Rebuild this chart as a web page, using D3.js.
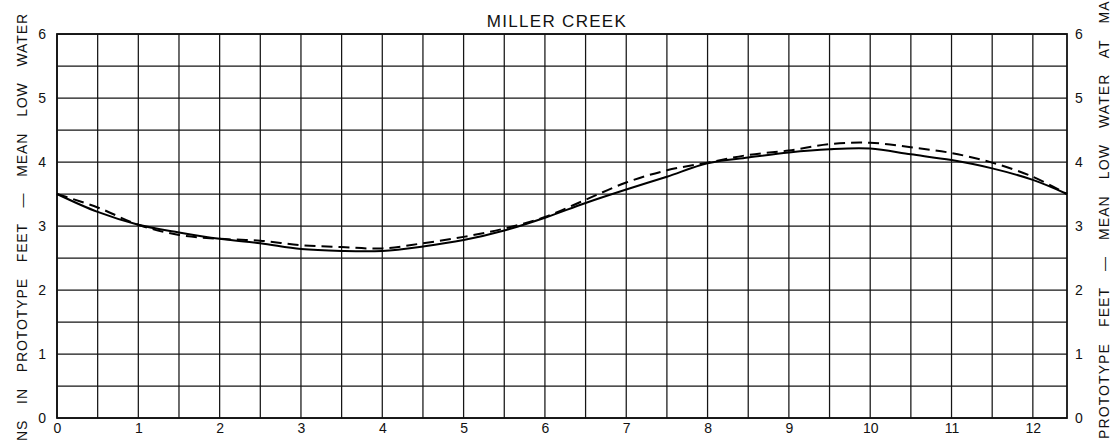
<!DOCTYPE html>
<html>
<head>
<meta charset="utf-8">
<script src="https://cdn.jsdelivr.net/npm/d3@7"></script>
<style>
  html, body { margin: 0; padding: 0; background: #fff; }
  svg { display: block; }
  text { font-family: "Liberation Sans", "DejaVu Sans", sans-serif; fill: #111; }
</style>
</head>
<body>
<svg id="chart" width="1115" height="440"></svg>
<script>
// Time in lunar hours over one tidal cycle (12.42 h)
const hours = [0, 0.5, 1, 1.5, 2, 2.5, 3, 3.5, 4, 4.5, 5, 5.5, 6, 6.5, 7, 7.5, 8, 8.5, 9, 9.5, 10, 10.5, 11, 11.5, 12, 12.42];
// Stage curves, feet above mean low water
const solidStage = [3.50, 3.22, 3.02, 2.90, 2.80, 2.73, 2.64, 2.61, 2.61, 2.68, 2.78, 2.93, 3.13, 3.36, 3.57, 3.77, 3.98, 4.07, 4.15, 4.20, 4.21, 4.12, 4.03, 3.90, 3.72, 3.50];
const dashedStage = [3.50, 3.29, 3.02, 2.86, 2.80, 2.77, 2.70, 2.67, 2.65, 2.73, 2.83, 2.96, 3.14, 3.41, 3.68, 3.87, 3.99, 4.11, 4.18, 4.28, 4.30, 4.23, 4.14, 3.99, 3.77, 3.50];
const xTicks = [0, 1, 2, 3, 4, 5, 6, 7, 8, 9, 10, 11, 12];
const yTicks = [0, 1, 2, 3, 4, 5, 6];
const cycleEnd = 12.42;
const title = "MILLER CREEK";
const leftTitle = "ELEVATIONS IN PROTOTYPE FEET \u2014 MEAN LOW WATER";
const rightTitle = "PROTOTYPE FEET \u2014 MEAN LOW WATER AT MARE ISLAND";

const svg = d3.select("#chart");
const x = d3.scaleLinear().domain([0, cycleEnd]).range([57, 1067]);
const y = d3.scaleLinear().domain([0, 6]).range([418, 34]);

// grid every half unit
const xGrid = d3.range(0, 12.01, 0.5);
const yGrid = d3.range(0, 6.01, 0.5);
const grid = svg.append("g").attr("stroke", "#151515").attr("stroke-width", 1.25);
grid.selectAll("line.v").data(xGrid).join("line")
  .attr("x1", d => x(d)).attr("x2", d => x(d))
  .attr("y1", y(0)).attr("y2", y(6));
grid.selectAll("line.h").data(yGrid).join("line")
  .attr("x1", x(0)).attr("x2", x(cycleEnd))
  .attr("y1", d => y(d)).attr("y2", d => y(d));

// frame
svg.append("rect")
  .attr("x", x(0)).attr("y", y(6))
  .attr("width", x(cycleEnd) - x(0)).attr("height", y(0) - y(6))
  .attr("fill", "none").attr("stroke", "#111").attr("stroke-width", 1.8);

// axes (labels only)
const styleAxis = g => {
  g.select(".domain").remove();
  g.selectAll("line").remove();
  g.selectAll("text").attr("font-size", 14).attr("fill", "#111")
    .attr("font-family", "Liberation Sans, DejaVu Sans, sans-serif");
};
svg.append("g").attr("transform", `translate(${x(0)},0)`)
  .call(d3.axisLeft(y).tickValues(yTicks).tickSize(0).tickPadding(11).tickFormat(d3.format("d")))
  .call(styleAxis);
svg.append("g").attr("transform", `translate(${x(cycleEnd)},0)`)
  .call(d3.axisRight(y).tickValues(yTicks).tickSize(0).tickPadding(8).tickFormat(d3.format("d")))
  .call(styleAxis);
svg.append("g").attr("transform", `translate(0,${y(0)})`)
  .call(d3.axisBottom(x).tickValues(xTicks).tickSize(0).tickPadding(5).tickFormat(d3.format("d")))
  .call(styleAxis);

// stage curves
const line = d3.line().x((d, i) => x(hours[i])).y(d => y(d)).curve(d3.curveCatmullRom.alpha(0.5));
svg.append("path").datum(solidStage).attr("d", line)
  .attr("fill", "none").attr("stroke", "#000").attr("stroke-width", 2);
svg.append("path").datum(dashedStage).attr("d", line)
  .attr("fill", "none").attr("stroke", "#000").attr("stroke-width", 2)
  .attr("stroke-dasharray", "11,6");

// title
svg.append("text").attr("x", 557).attr("y", 27).attr("text-anchor", "middle")
  .attr("font-size", 17).attr("letter-spacing", 1.3).text(title);

// vertical axis titles
svg.append("text")
  .attr("transform", "translate(27,13) rotate(-90)")
  .attr("text-anchor", "end")
  .attr("font-size", 14).attr("letter-spacing", 0.9).attr("word-spacing", 11)
  .text(leftTitle);
svg.append("text")
  .attr("transform", "translate(1109,439) rotate(-90)")
  .attr("text-anchor", "start")
  .attr("font-size", 14).attr("letter-spacing", 1.1).attr("word-spacing", 11)
  .text(rightTitle);
</script>
</body>
</html>
